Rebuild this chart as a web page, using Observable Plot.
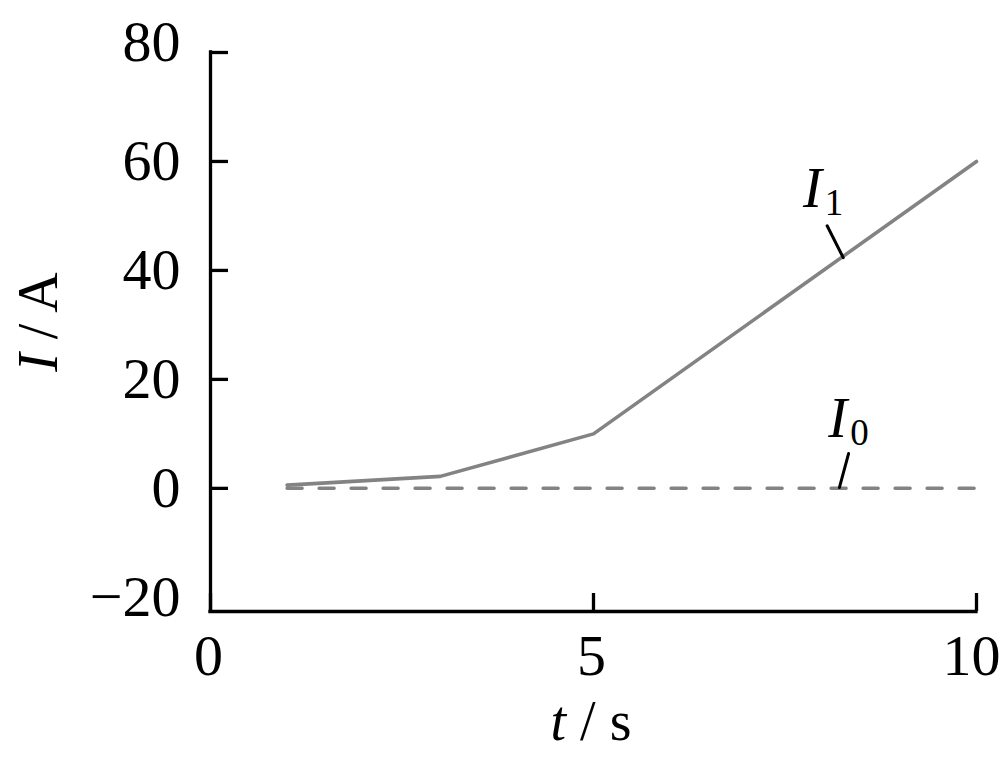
<!DOCTYPE html>
<html>
<head>
<meta charset="utf-8">
<script src="https://cdn.jsdelivr.net/npm/d3@7"></script>
<script src="https://cdn.jsdelivr.net/npm/@observablehq/plot@0.6"></script>
<style>
  html, body { margin: 0; padding: 0; background: white; }
  #chart svg { display: block; }
</style>
</head>
<body>
<div id="chart"></div>
<script>
// Data
const xTicks = [0, 5, 10];
const yTickLabels = [-20, 0, 20, 40, 60, 80];
const yTickMarks = [0, 20, 40, 60, 80];
const yDomain = [-22.6, 80];
const tI1 = [1, 3, 5, 10];
const vI1 = [0.6, 2.2, 10, 60];
const tI0 = [1, 10];
const vI0 = [0, 0];
// annotation anchors (data coordinates)
const labelI1 = {x: 7.74, y: 51.5, sub: "1", leader: [[8.05, 48.2], [8.26, 42.35]]};
const labelI0 = {x: 8.07, y: 9.33, sub: "0", leader: [[8.33, 6.39], [8.21, 0.15]]};

const I1 = tI1.map((t, i) => ({t, v: vI1[i]}));
const I0 = tI0.map((t, i) => ({t, v: vI0[i]}));

const font = "'Liberation Serif', 'Times New Roman', serif";
const gray = "#838383";
const fmt = d => d < 0 ? "\u2212" + Math.abs(d) : String(d);

const plot = Plot.plot({
  width: 1000,
  height: 758,
  marginLeft: 210,
  marginRight: 24,
  marginTop: 52,
  marginBottom: 147,
  style: {fontFamily: font, fontSize: "58px", color: "black", background: "white", overflow: "visible"},
  x: {domain: [0, 10]},
  y: {domain: yDomain},
  marks: [
    Plot.line(I0, {x: "t", y: "v", stroke: gray, strokeWidth: 3.5, strokeDasharray: "15,17", strokeLinecap: "round"}),
    Plot.line(I1, {x: "t", y: "v", stroke: gray, strokeWidth: 3.6}),
    Plot.line(labelI1.leader, {x: d => d[0], y: d => d[1], stroke: "black", strokeWidth: 3}),
    Plot.line(labelI0.leader, {x: d => d[0], y: d => d[1], stroke: "black", strokeWidth: 3}),
    Plot.ruleX([0], {stroke: "black", strokeWidth: 3.3, strokeLinecap: "square"}),
    Plot.ruleY([yDomain[0]], {stroke: "black", strokeWidth: 3.3, strokeLinecap: "square"}),
    Plot.axisX({ticks: xTicks, tickSize: -18, text: null, strokeWidth: 3.3, label: null}),
    Plot.axisX({ticks: xTicks.slice(0, 2), tickSize: 0, tickPadding: 22, fontSize: 58, label: null, dx: -2, tickFormat: fmt}),
    Plot.axisX({ticks: xTicks.slice(2), tickSize: 0, tickPadding: 22, fontSize: 58, label: null, dx: -5, tickFormat: fmt}),
    Plot.axisY({ticks: yTickMarks, tickSize: -18, text: null, strokeWidth: 3.3, label: null}),
    Plot.axisY({ticks: yTickLabels.slice(0, 5), tickSize: 0, tickPadding: 30, fontSize: 58, label: null, tickFormat: fmt}),
    Plot.axisY({ticks: yTickLabels.slice(5), tickSize: 0, tickPadding: 30, fontSize: 58, label: null, dy: -10, tickFormat: fmt})
  ]
});

document.getElementById("chart").appendChild(plot);

// Rich text (italic symbols with subscripts) placed via the plot's scales
const svg = d3.select(plot);
const sx = plot.scale("x"), sy = plot.scale("y");

function symbolLabel(lab) {
  const t = svg.append("text")
    .attr("x", sx.apply(lab.x)).attr("y", sy.apply(lab.y))
    .attr("text-anchor", "start")
    .attr("font-family", font).attr("font-size", 57).attr("fill", "black");
  t.append("tspan").attr("font-style", "italic").text("I");
  t.append("tspan").attr("font-size", 37).attr("dy", 8).attr("dx", 3).text(lab.sub);
}
symbolLabel(labelI1);
symbolLabel(labelI0);

// Axis titles
const xt = svg.append("text")
  .attr("x", (sx.apply(0) + sx.apply(10)) / 2 - 2).attr("y", 740)
  .attr("text-anchor", "middle")
  .attr("font-family", font).attr("font-size", 56).attr("fill", "black");
xt.append("tspan").attr("font-style", "italic").text("t");
xt.append("tspan").text(" / s");

const yt = svg.append("text")
  .attr("transform", `translate(57, 322) rotate(-90)`)
  .attr("text-anchor", "middle")
  .attr("font-family", font).attr("font-size", 56).attr("fill", "black");
yt.append("tspan").attr("font-style", "italic").text("I");
yt.append("tspan").text(" / A");
</script>
</body>
</html>
